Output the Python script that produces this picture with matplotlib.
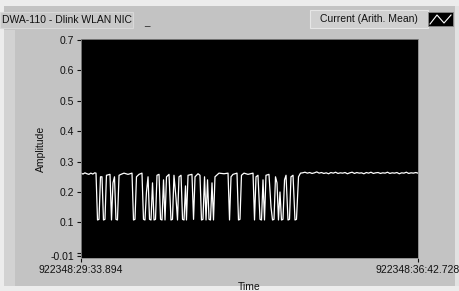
import matplotlib
matplotlib.use("Agg")
import matplotlib.pyplot as plt
from matplotlib.patches import Rectangle

plt.rcParams['font.family'] = ['Liberation Sans', 'DejaVu Sans']

# ---- data (time in s from start, amplitude) ----
head_t = [0.0, 2.5, 5.0, 7.5, 10.0, 12.5, 15.0, 17.5, 19.1]
head_a = [0.262, 0.259, 0.263, 0.260, 0.258, 0.262, 0.259, 0.263, 0.262]

burst_t = [21.0, 22.9, 24.8, 26.7, 28.6, 30.5, 32.4, 36.9, 38.8, 40.7,
           42.6, 44.5, 46.4, 48.4, 50.9, 54.7, 59.8, 64.9, 66.8, 68.7,
           70.6, 73.8, 77.6, 79.5, 81.4, 83.3, 85.3, 87.2, 89.1, 91.0,
           92.9, 94.8, 96.7, 99.3, 101.2, 103.1, 105.0, 106.9, 108.8, 112.0,
           114.5, 116.4, 118.3, 120.9, 122.8, 124.7, 127.3, 129.2, 131.1, 133.0,
           134.2, 136.2, 141.2, 143.2, 145.1, 148.9, 151.4, 153.3, 155.2, 157.2,
           159.1, 161.0, 162.9, 164.8, 166.7, 168.6, 170.5, 175.6, 182.0, 187.1,
           189.0, 190.9, 193.4, 198.5, 200.4, 202.3, 204.2, 207.4, 212.5, 218.9,
           220.8, 222.7, 225.2, 227.8, 229.7, 231.6, 233.5, 235.4, 239.2, 241.8,
           243.7, 245.6, 247.5, 249.4, 251.3, 253.2, 255.1, 257.0, 259.0, 260.9,
           263.4, 265.3, 267.2, 269.8, 272.3, 274.2, 276.8, 279.3]
burst_a = [0.108, 0.110, 0.250, 0.250, 0.108, 0.110, 0.255, 0.258, 0.108, 0.230,
           0.250, 0.110, 0.108, 0.255, 0.258, 0.262, 0.258, 0.262, 0.108, 0.110,
           0.250, 0.258, 0.262, 0.110, 0.108, 0.200, 0.250, 0.110, 0.108, 0.230,
           0.108, 0.110, 0.255, 0.258, 0.110, 0.108, 0.240, 0.108, 0.250, 0.258,
           0.108, 0.110, 0.255, 0.180, 0.108, 0.250, 0.255, 0.110, 0.108, 0.220,
           0.108, 0.255, 0.258, 0.110, 0.250, 0.260, 0.255, 0.108, 0.110, 0.250,
           0.108, 0.240, 0.110, 0.108, 0.230, 0.108, 0.250, 0.262, 0.260, 0.262,
           0.108, 0.250, 0.258, 0.262, 0.108, 0.110, 0.255, 0.262, 0.258, 0.262,
           0.108, 0.250, 0.255, 0.110, 0.108, 0.240, 0.108, 0.255, 0.258, 0.150,
           0.108, 0.110, 0.250, 0.230, 0.108, 0.200, 0.108, 0.110, 0.240, 0.255,
           0.108, 0.110, 0.250, 0.255, 0.108, 0.110, 0.250, 0.262]

tail_t = [282, 285, 288, 291, 294, 297, 300, 303, 306, 309,
          312, 315, 318, 321, 324, 327, 330, 333, 336, 339,
          342, 345, 348, 351, 354, 357, 360, 363, 366, 369,
          372, 375, 378, 381, 384, 387, 390, 393, 396, 399,
          402, 405, 408, 411, 414, 417, 420, 423, 426, 428.8]
tail_a = [0.263, 0.265, 0.262, 0.264, 0.261, 0.263, 0.266, 0.262, 0.264, 0.261,
          0.263, 0.260, 0.264, 0.262, 0.265, 0.261, 0.263, 0.262, 0.264, 0.260,
          0.263, 0.265, 0.261, 0.264, 0.262, 0.263, 0.260, 0.264, 0.262, 0.265,
          0.261, 0.263, 0.264, 0.261, 0.263, 0.262, 0.265, 0.261, 0.263, 0.262,
          0.264, 0.260, 0.263, 0.262, 0.265, 0.261, 0.263, 0.262, 0.264, 0.262]

t_end = 428.834
x_labels = ['922348:29:33.894', '922348:36:42.728']
y_ticks = [-0.01, 0.0, 0.1, 0.2, 0.3, 0.4, 0.5, 0.6, 0.7]
y_labels = ['-0.01', '', '0.1', '0.2', '0.3', '0.4', '0.5', '0.6', '0.7']

W, H = 459, 291
fig = plt.figure(figsize=(W / 100, H / 100), dpi=100)
fig.patch.set_facecolor('#c3c3c3')

# background panel drawn in pixel coords
bg = fig.add_axes([0, 0, 1, 1], zorder=0)
bg.set_xlim(0, W)
bg.set_ylim(H, 0)
bg.axis('off')
bg.add_patch(Rectangle((0, 0), W, 6, facecolor='#ececec', edgecolor='none'))
bg.add_patch(Rectangle((0, 0), 4, H, facecolor='#ececec', edgecolor='none'))
bg.add_patch(Rectangle((0, 286), W, 5, facecolor='#ececec', edgecolor='none'))
bg.add_patch(Rectangle((4, 30), 11, 256, facecolor='#d2d2d2', edgecolor='none'))
bg.add_patch(Rectangle((455, 6), 4, 280, facecolor='#e2e2e2', edgecolor='none'))
# title box
bg.add_patch(Rectangle((0, 12), 133, 16, facecolor='#c9c9c9', edgecolor='#d8d8d8', lw=0.8))
bg.text(2, 20, 'DWA-110 - Dlink WLAN NIC', fontsize=7.5, color='#111111',
        ha='left', va='center')
bg.text(144, 22, '_', fontsize=7, color='#222222', ha='left', va='center')
# legend box
bg.add_patch(Rectangle((310, 10), 118, 18, facecolor='#d0d0d0', edgecolor='#e6e6e6', lw=0.8))
bg.text(369, 19.5, 'Current (Arith. Mean)', fontsize=7.5, color='#111111',
        ha='center', va='center')
bg.add_patch(Rectangle((428, 12), 25, 14, facecolor='black', edgecolor='#888888', lw=0.6))
bg.plot([430, 437, 444, 451], [24, 15, 23, 15], color='white', lw=0.8)

# plot area
ax = fig.add_axes([81 / W, 1 - 258 / H, 337 / W, 219 / H], zorder=1)
ax.set_facecolor('black')
ax.plot(head_t + burst_t + tail_t, head_a + burst_a + tail_a,
        color='white', lw=0.9)
ax.set_xlim(0, t_end)
ax.set_ylim(-0.017, 0.703)
ax.set_xticks([0, t_end])
ax.set_xticklabels(x_labels)
ax.set_yticks(y_ticks)
ax.set_yticklabels(y_labels)
ax.tick_params(axis='both', labelsize=7.5, colors='#111111', length=3,
               width=0.8, pad=2)
for s in ax.spines.values():
    s.set_color('#888888')
    s.set_linewidth(0.6)
ax.set_ylabel('Amplitude', fontsize=7.5, color='#111111')
ax.yaxis.set_label_coords(-0.105, 0.5)
ax.set_xlabel('Time', fontsize=7.5, color='#111111', labelpad=5)

plt.savefig('out.png', dpi=100, facecolor=fig.get_facecolor())
